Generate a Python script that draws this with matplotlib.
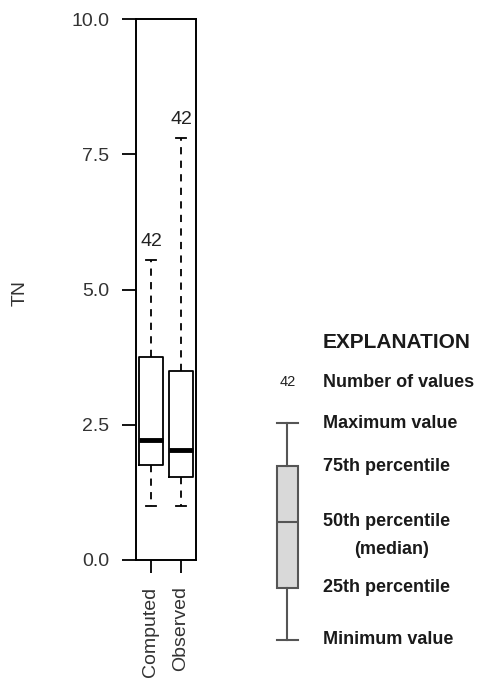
import matplotlib
matplotlib.use("Agg")
import matplotlib.pyplot as plt
from matplotlib import font_manager
from matplotlib.transforms import blended_transform_factory

# ---- data -------------------------------------------------------------
groups = ["Computed", "Observed"]
tn_min = [1.0, 1.0]
tn_q1 = [1.76, 1.54]
tn_median = [2.22, 2.04]
tn_q3 = [3.75, 3.50]
tn_max = [5.55, 7.80]
n_values = [42, 42]
y_ticks = [0.0, 2.5, 5.0, 7.5, 10.0]
y_tick_labels = ["0.0", "2.5", "5.0", "7.5", "10.0"]

# schematic box used in the explanation
legend_labels = ["Minimum value", "25th percentile", "50th percentile",
                 "75th percentile", "Maximum value"]
legend_stats = [0.0, 0.52, 1.18, 1.74, 2.17]
legend_count = 42

# ---- fonts ------------------------------------------------------------
available = {f.name for f in font_manager.fontManager.ttflist}
base_font = "Liberation Sans" if "Liberation Sans" in available else "DejaVu Sans"
if "Liberation Sans Narrow" in available:
    expl_font, expl_scale = "Liberation Sans Narrow", 1.12
else:
    expl_font, expl_scale = base_font, 1.0
plt.rcParams["font.family"] = [base_font, "DejaVu Sans"]

W, H = 485, 685
fig = plt.figure(figsize=(W / 100, H / 100), dpi=100)

# ---- main box plot ----------------------------------------------------
ax = fig.add_axes([136 / W, 125 / H, 60 / W, 541 / H])
stats = [dict(label=g, whislo=lo, q1=a, med=m, q3=b, whishi=hi, fliers=[])
         for g, lo, a, m, b, hi in zip(groups, tn_min, tn_q1, tn_median, tn_q3, tn_max)]
positions = list(range(1, len(groups) + 1))
ax.bxp(stats, positions=positions, widths=0.78, capwidths=0.35, showfliers=False,
       boxprops=dict(color="black", linewidth=1.3),
       medianprops=dict(color="black", linewidth=3.5, solid_capstyle="butt"),
       whiskerprops=dict(color="black", linewidth=1.3, linestyle=(0, (4, 3.5))),
       capprops=dict(color="black", linewidth=1.3))

for p, hi, n in zip(positions, tn_max, n_values):
    ax.annotate(str(n), xy=(p, hi), xytext=(0, 7), textcoords="offset points",
                ha="center", va="bottom", fontsize=14, color="#222222")

ax.set_xlim(0.5, len(groups) + 0.5)
ax.set_ylim(0, 10)
ax.set_yticks(y_ticks, labels=y_tick_labels)
ax.set_xticks(positions, labels=groups, rotation=90)
ax.tick_params(axis="y", length=10, width=1.3, pad=9, labelsize=14, labelcolor="#333333")
ax.tick_params(axis="x", length=9, width=1.3, pad=10, labelsize=14, labelcolor="#333333")
for s in ax.spines.values():
    s.set_linewidth(1.4)
ax.set_ylabel("TN", fontsize=14, color="#333333")
ax.yaxis.label.set_va("center")
ax.yaxis.set_label_coords(-1.93, 0.494)

# ---- explanation ------------------------------------------------------
lax = fig.add_axes([262 / W, 45 / H, 51 / W, 217 / H])
lax.set_xlim(0.5, 1.5)
lax.set_ylim(legend_stats[0], legend_stats[-1])
lax.axis("off")
lo, q1, med, q3, hi = legend_stats
art = lax.bxp([dict(whislo=lo, q1=q1, med=med, q3=q3, whishi=hi, fliers=[])],
              positions=[1], widths=0.42, capwidths=0.42, showfliers=False,
              patch_artist=True,
              boxprops=dict(facecolor="#d9d9d9", edgecolor="#555555", linewidth=1.5),
              medianprops=dict(color="#555555", linewidth=1.5, solid_capstyle="butt"),
              whiskerprops=dict(color="#555555", linewidth=1.5),
              capprops=dict(color="#555555", linewidth=1.5))
for items in art.values():
    for a in items:
        a.set_clip_on(False)

trans = blended_transform_factory(fig.transFigure, lax.transData)
text_x = 323 / W
ekw = dict(family=[expl_font, "DejaVu Sans"], fontweight="bold", color="#1a1a1a")
for lab, v in zip(legend_labels, legend_stats):
    lax.annotate(lab, xy=(text_x, v), xycoords=trans, va="center", ha="left",
                 fontsize=13 * expl_scale, **ekw)
lax.annotate("(median)", xy=(392 / W, med), xycoords=trans, xytext=(0, -20),
             textcoords="offset points", va="center", ha="center",
             fontsize=13 * expl_scale, **ekw)
lax.annotate("Number of values", xy=(text_x, hi), xycoords=trans, xytext=(0, 29.5),
             textcoords="offset points", va="center", ha="left",
             fontsize=13 * expl_scale, **ekw)
lax.annotate(str(legend_count), xy=(1, hi), xytext=(0, 29.5), textcoords="offset points",
             va="center", ha="center", fontsize=10.5, color="#222222")
lax.annotate("EXPLANATION", xy=(text_x, hi), xycoords=trans, xytext=(0, 58),
             textcoords="offset points", va="center", ha="left",
             fontsize=15 * expl_scale, **ekw)

fig.savefig("out.png", dpi=100)
